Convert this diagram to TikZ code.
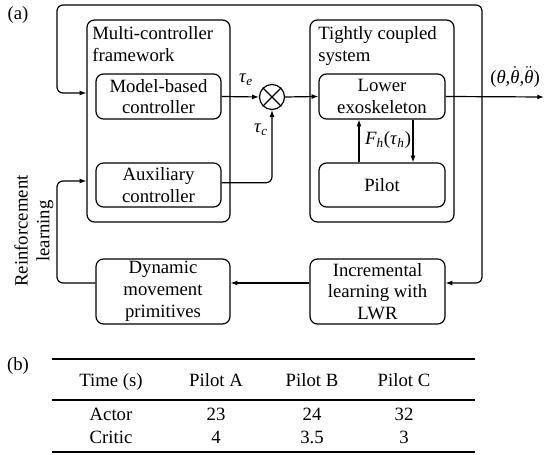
\documentclass[tikz,border=0pt]{standalone}
\usepackage{amsmath}
\usepackage{fontspec}
\setmainfont{Liberation Serif}
\usetikzlibrary{arrows.meta}
\newlength\unitpx
\setlength\unitpx{0.667pt}
\newcommand\itx[1]{\text{\textit{#1}}}

\begin{document}
\begin{tikzpicture}[x=\unitpx, y=-\unitpx, font=\fontsize{12.5}{14.5}\selectfont]
	\useasboundingbox (0,0) rectangle (545,455);
	\node (LA) at (18,15) {(a)};
	\node (LB) at (18,366) {(b)};
	\begin{scope}[every node/.style = {draw, thick, rounded corners=5pt,
			align=center, inner sep=0pt}]
		\node[minimum width=143*\unitpx, minimum height=202*\unitpx] (MCF) at (158.5,121) {};
		\node[minimum width=144*\unitpx, minimum height=202*\unitpx] (TCS) at (382,121) {};
		\node[minimum width=125*\unitpx, minimum height=45*\unitpx] (MBC) at (158.5,96.5) {Model-based\\controller};
		\node[minimum width=125*\unitpx, minimum height=44*\unitpx] (AUX) at (158.5,185) {Auxiliary\\controller};
		\node[minimum width=126*\unitpx, minimum height=45*\unitpx] (EXO) at (382,96.5) {Lower\\exoskeleton};
		\node[minimum width=126*\unitpx, minimum height=44*\unitpx] (PIL) at (382,185) {Pilot};
		\node[minimum width=134*\unitpx, minimum height=65*\unitpx] (DMP) at (163,291.5) {Dynamic\\movement\\primitives};
		\node[minimum width=135*\unitpx, minimum height=65*\unitpx] (ILW) at (377.5,291.5) {Incremental\\learning with\\LWR};
		\node[circle, rounded corners=0pt, minimum size=25*\unitpx] (SUM) at (272,97) {};
	\end{scope}
	\begin{scope}[every node/.style = {inner sep=0pt}]
		\node[anchor=north west, align=left] (MCFT) at (92,26) {Multi-controller\\framework};
		\node[anchor=north west, align=left] (TCST) at (318,26) {Tightly coupled\\system};
		\node (TE) at (246,80) {$\itx{τ}_{\itx{e}}$};
		\node (TC) at (261,130) {$\itx{τ}_{\itx{c}}$};
		\node (FH) at (388,140) {$\itx{F}_{\itx{h}}\text{(}\itx{τ}_{\itx{h}}\text{)}$};
		\node (TH) at (515,77) {$\text{(}\itx{θ}\text{,}\dot{\itx{θ}}\text{,}\ddot{\itx{θ}}\text{)}$};
		\node[rotate=90, align=center] (RL) at (34,231) {Reinforcement\\learning};
	\end{scope}
	\coordinate (J) at (482,97);
	\coordinate (OUT) at (544,97);
	\begin{scope}[>={Latex[length=4.5pt, width=3.3pt]}, thick, rounded corners=4pt]
		\draw (SUM.north west) -- (SUM.south east);
		\draw (SUM.south west) -- (SUM.north east);
		\draw [->] (MBC.east) -- (SUM.west);
		\draw [->] ([yshift=1.5pt]AUX.east) -| (SUM.south);
		\draw [->] (SUM.east) -- (EXO.west);
		\draw [->] (EXO.east) -- (OUT);
		\draw [->] ([xshift=-23*\unitpx]PIL.north) -- ([xshift=-23*\unitpx]EXO.south);
		\draw [->] ([xshift=31*\unitpx]EXO.south) -- ([xshift=31*\unitpx]PIL.north);
		\draw [->] (J) -- (482,5) -- (57,5) -- (57,93) -- ([yshift=28*\unitpx]MCF.west);
		\draw [->] (J) -- (482,283) -- ([yshift=8.5*\unitpx]ILW.east);
		\draw [->] ([yshift=8.5*\unitpx]ILW.west) -- ([yshift=8.5*\unitpx]DMP.east);
		\draw [->] ([yshift=8.5*\unitpx]DMP.west) -- (57,283) -- (57,181) -- ([yshift=-60*\unitpx]MCF.west);
	\end{scope}
	% table (b)
	\draw[line width=1.4pt] (52,359) -- (475,359);
	\draw[line width=0.7pt] (52,400) -- (475,400);
	\draw[line width=1.4pt] (52,452) -- (475,452);
	\begin{scope}[every node/.style = {anchor=base, inner sep=0pt}]
		\node (H1) at (111,387) {Time (s)};
		\node (H2) at (216,387) {Pilot A};
		\node (H3) at (312,387) {Pilot B};
		\node (H4) at (404,387) {Pilot C};
		\node (A1) at (111,421) {Actor};
		\node (A2) at (216,421) {23};
		\node (A3) at (312,421) {24};
		\node (A4) at (404,421) {32};
		\node (C1) at (111,444) {Critic};
		\node (C2) at (216,444) {4};
		\node (C3) at (312,444) {3.5};
		\node (C4) at (404,444) {3};
	\end{scope}
\end{tikzpicture}
\end{document}
